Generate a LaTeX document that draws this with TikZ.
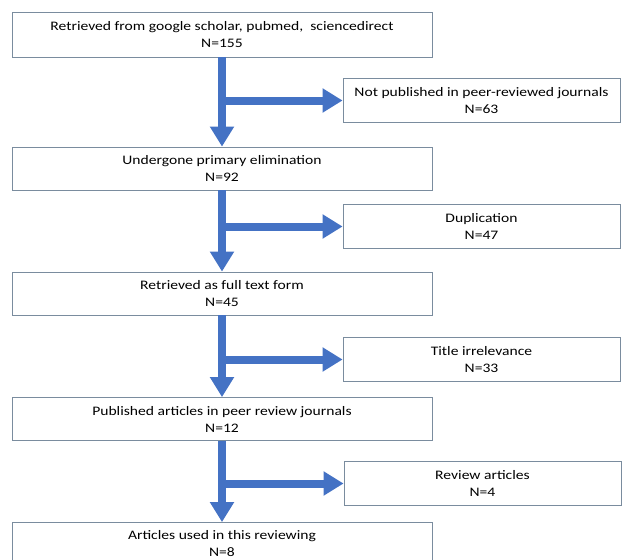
\documentclass[tikz,border=0pt]{standalone}
\usepackage{fontspec}
\setmainfont{Carlito}[FakeStretch=1.2]
\usetikzlibrary{arrows.meta}
\usetikzlibrary{positioning}
\definecolor{flowblue}{HTML}{4472C4}
\definecolor{boxline}{HTML}{7A8C9E}

\begin{document}
\begin{tikzpicture}[x=1pt, y=-1pt, >={Triangle[width=23pt,length=20pt]}]
  \tikzset{every node/.style={font=\fontsize{13}{17}\selectfont, align=center},
    mainbox/.style={draw=boxline, line width=0.8pt, minimum width=420pt, minimum height=43pt, inner sep=0pt},
    sidebox/.style={draw=boxline, line width=0.8pt, minimum width=277pt, minimum height=44pt, inner sep=0pt},
    flow/.style={->, draw=flowblue, line width=8pt}}
  \useasboundingbox (0,0) rectangle (622,560);
  \clip (0,0) rectangle (622,560);

  % main column
  \node[mainbox, minimum height=45pt] (ret) at (222,34.5) {Retrieved from google scholar, pubmed,\ \ sciencedirect\\N=155};
  \node[mainbox] (prim) at (222,168.5) {Undergone primary elimination\\N=92};
  \node[mainbox] (full) at (222,293.5) {Retrieved as full text form\\N=45};
  \node[mainbox] (pub)  at (222,419) {Published articles in peer review journals\\N=12};
  \node[mainbox] (used) at (222,544) {Articles used in this reviewing\\N=8};

  % excluded records
  \node[sidebox] (notpub) at (481.5,100.5) {Not published in peer-reviewed journals\\N=63};
  \node[sidebox] (dup)    at (481.5,226.5) {Duplication\\N=47};
  \node[sidebox] (title)  at (481.5,359.5) {Title irrelevance\\N=33};
  \node[sidebox] (review) at (482.5,483.5) {Review articles\\N=4};

  \foreach \a/\b/\s in {ret/prim/notpub, prim/full/dup, full/pub/title, pub/used/review} {
    \draw[flow] (\a.south) -- (\b.north);
    \draw[flow] (\a.south |- \s.west) -- (\s.west);
  }
\end{tikzpicture}
\end{document}
